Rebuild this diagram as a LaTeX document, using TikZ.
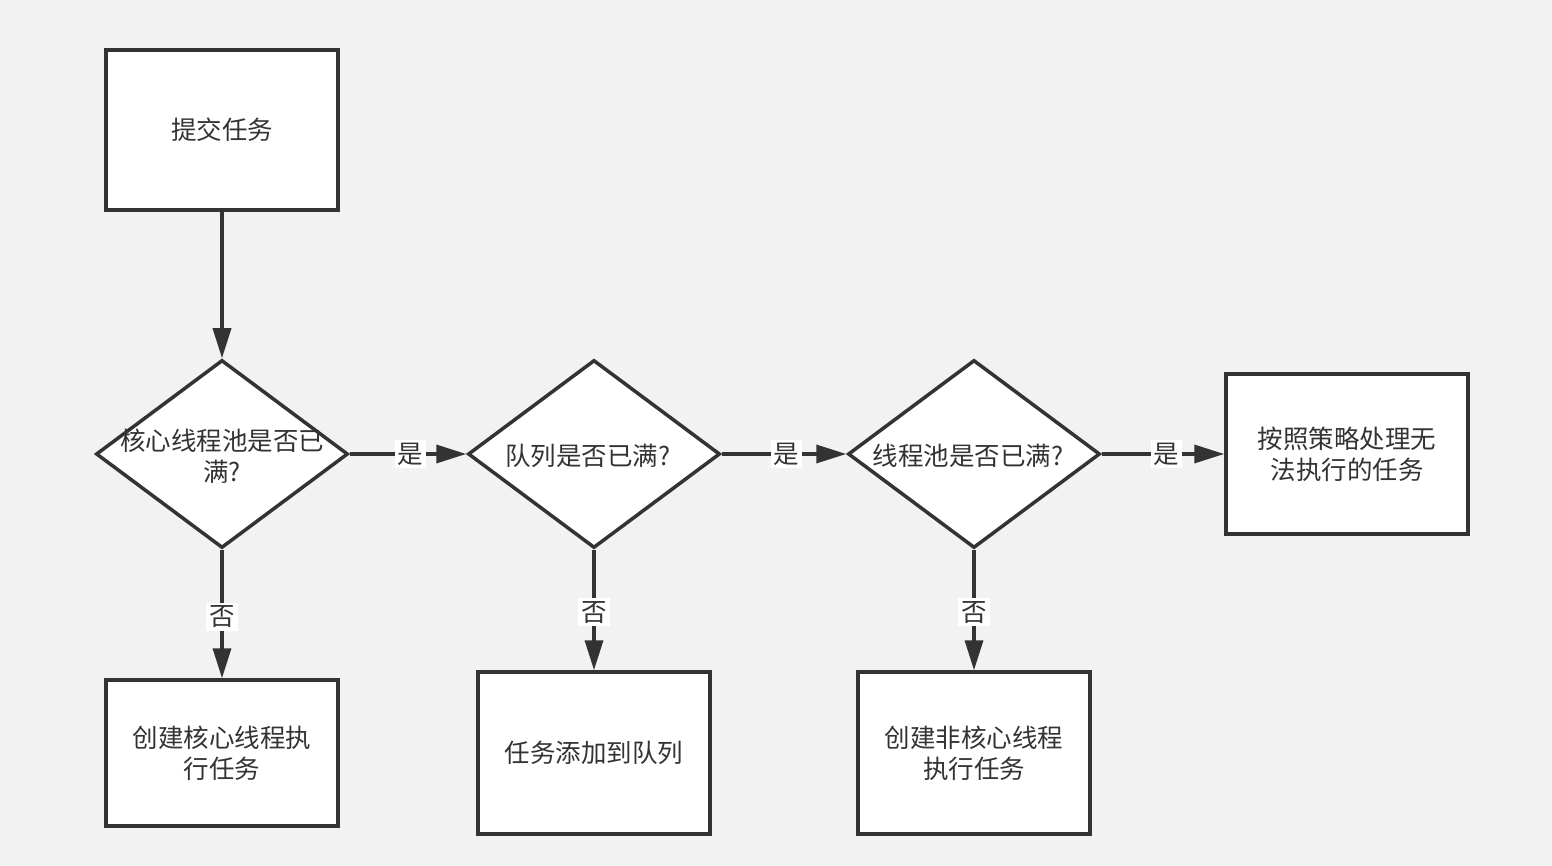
\documentclass[tikz,border=0pt]{standalone}
\usepackage{fontspec}
\setmainfont{Noto Sans CJK SC}
\usetikzlibrary{shapes.geometric,arrows.meta}
\definecolor{bg}{HTML}{F2F2F2}
\definecolor{ink}{HTML}{333333}
\definecolor{txt}{HTML}{333333}
\begin{document}
\begin{tikzpicture}[x=1pt,y=-1pt,
  box/.style={draw=ink,fill=white,line width=3.5pt,minimum width=232pt,minimum height=160pt,inner sep=0pt,
    font=\fontsize{25.5}{31}\selectfont,text=txt,align=center},
  dia/.style={draw=ink,fill=white,line width=3.5pt,diamond,minimum width=252pt,minimum height=188pt,inner sep=0pt},
  dtxt/.style={text=txt,font=\fontsize{25.5}{31}\selectfont,align=center,inner sep=0pt},
  conn/.style={draw=ink,line width=3.5pt,-{Triangle[length=30pt,width=18pt]}},
  lbl/.style={fill=white,inner sep=3pt,font=\fontsize{25.5}{28}\selectfont,text=txt}]
\fill[bg] (0,0) rectangle (1552,866);
\useasboundingbox (0,0) rectangle (1552,866);
\node[box] (submit) at (222,130) {提交任务};
\node[dia] (d1) at (222,454) {};
\node[dtxt] (d1t) at (222,456) {核心线程池是否已\\满?};
\node[dia] (d2) at (594,454) {};
\node[dtxt] (d2t) at (588,456) {队列是否已满?};
\node[dia] (d3) at (974,454) {};
\node[dtxt] (d3t) at (968,456) {线程池是否已满?};
\node[box,minimum width=242pt] (policy) at (1347,454) {按照策略处理无\\法执行的任务};
\node[box,minimum height=146pt] (core) at (222,753) {创建核心线程执\\行任务};
\node[box,minimum height=162pt] (queue) at (594,753) {任务添加到队列};
\node[box,minimum height=162pt] (noncore) at (974,753) {创建非核心线程\\执行任务};
\draw[conn] (submit) -- (d1);
\draw[conn] (d1) -- node[lbl,pos=0.52]{是} (d2);
\draw[conn] (d2) -- node[lbl,pos=0.52]{是} (d3);
\draw[conn] (d3) -- node[lbl,pos=0.53]{是} (policy);
\draw[conn] (d1) -- node[lbl,pos=0.52]{否} (core);
\draw[conn] (d2) -- node[lbl,pos=0.52]{否} (queue);
\draw[conn] (d3) -- node[lbl,pos=0.52]{否} (noncore);
\end{tikzpicture}
\end{document}
